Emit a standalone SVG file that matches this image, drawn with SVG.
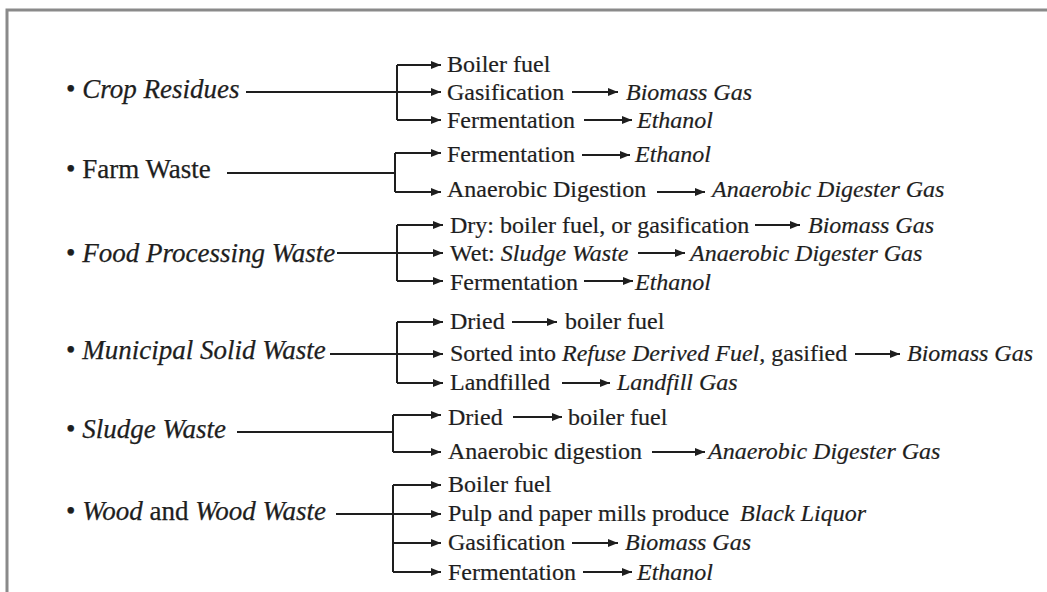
<svg xmlns="http://www.w3.org/2000/svg" width="1047" height="592" viewBox="0 0 1047 592">
<defs>
<marker id="ah" markerUnits="userSpaceOnUse" markerWidth="10" markerHeight="8" refX="10" refY="4" orient="auto">
<path d="M0,0 L10,4 L0,8 z" fill="#1e1e1e"/>
</marker>
<style>
.src{font-family:"Liberation Serif","Times New Roman",serif;font-size:27px;fill:#1e1e1e;stroke:#1e1e1e;stroke-width:0.25px}
.t{font-family:"Liberation Serif","Times New Roman",serif;font-size:24px;fill:#1e1e1e;stroke:#1e1e1e;stroke-width:0.2px}
.i{font-style:italic}
.ln{stroke:#1e1e1e;stroke-width:2;fill:none}
.ar{stroke:#1e1e1e;stroke-width:2;fill:none;marker-end:url(#ah)}
.frame{stroke:#8a8a8a;stroke-width:3;fill:none}
</style>
</defs>
<rect width="1047" height="592" fill="#ffffff"/>
<path class="frame" d="M7,592 L7,10 L1047,10"/>

<g id="connectors">
<!-- Crop Residues -->
<path class="ln" d="M246,92 H397 M397,65 V120"/>
<path class="ar" d="M397,65 H441"/>
<path class="ar" d="M397,92 H441"/>
<path class="ar" d="M397,120 H441"/>
<path class="ar" d="M572,92 H618"/>
<path class="ar" d="M584,120 H632"/>
<!-- Farm Waste -->
<path class="ln" d="M227,173 H395 M395,153 V192"/>
<path class="ar" d="M395,153 H441"/>
<path class="ar" d="M395,192 H441"/>
<path class="ar" d="M582,155 H630"/>
<path class="ar" d="M657,192 H705"/>
<!-- Food Processing Waste -->
<path class="ln" d="M337,253 H397 M397,225 V281"/>
<path class="ar" d="M397,225 H443"/>
<path class="ar" d="M397,253 H443"/>
<path class="ar" d="M397,281 H443"/>
<path class="ar" d="M755,225 H800"/>
<path class="ar" d="M638,253 H685"/>
<path class="ar" d="M584,281 H633"/>
<!-- Municipal Solid Waste -->
<path class="ln" d="M330,354 H397 M397,322 V383"/>
<path class="ar" d="M397,322 H443"/>
<path class="ar" d="M397,354 H443"/>
<path class="ar" d="M397,383 H443"/>
<path class="ar" d="M512,322 H557"/>
<path class="ar" d="M855,354 H900"/>
<path class="ar" d="M562,383 H610"/>
<!-- Sludge Waste -->
<path class="ln" d="M237,432 H393 M393,415 V452"/>
<path class="ar" d="M393,415 H441"/>
<path class="ar" d="M393,452 H441"/>
<path class="ar" d="M513,417 H562"/>
<path class="ar" d="M652,452 H705"/>
<!-- Wood and Wood Waste -->
<path class="ln" d="M336,514 H393 M393,485 V572"/>
<path class="ar" d="M393,485 H441"/>
<path class="ar" d="M393,514 H441"/>
<path class="ar" d="M393,543 H441"/>
<path class="ar" d="M393,572 H441"/>
<path class="ar" d="M572,543 H618"/>
<path class="ar" d="M583,572 H632"/>
</g>

<g id="crop-residues"><text class="src" x="66" y="98">• <tspan class="i">Crop Residues</tspan></text></g>
<g id="crop-boiler-fuel"><text class="t" x="447" y="72">Boiler fuel</text></g>
<g id="crop-gasification"><text class="t" x="447" y="100">Gasification</text></g>
<g id="crop-biomass-gas"><text class="t i" x="626" y="100">Biomass Gas</text></g>
<g id="crop-fermentation"><text class="t" x="447" y="128">Fermentation</text></g>
<g id="crop-ethanol"><text class="t i" x="637" y="128">Ethanol</text></g>

<g id="farm-waste"><text class="src" x="66" y="178">• Farm Waste</text></g>
<g id="farm-fermentation"><text class="t" x="447" y="162">Fermentation</text></g>
<g id="farm-ethanol"><text class="t i" x="635" y="162">Ethanol</text></g>
<g id="farm-anaerobic-digestion"><text class="t" x="447" y="197">Anaerobic Digestion</text></g>
<g id="farm-adg"><text class="t i" x="712" y="197">Anaerobic Digester Gas</text></g>

<g id="food-processing-waste"><text class="src" x="66" y="262">• <tspan class="i">Food Processing Waste</tspan></text></g>
<g id="food-dry"><text class="t" x="450" y="233">Dry: boiler fuel, or gasification</text></g>
<g id="food-biomass-gas"><text class="t i" x="808" y="233">Biomass Gas</text></g>
<g id="food-wet"><text class="t" x="450" y="261">Wet: <tspan class="i">Sludge Waste</tspan></text></g>
<g id="food-adg"><text class="t i" x="690" y="261">Anaerobic Digester Gas</text></g>
<g id="food-fermentation"><text class="t" x="450" y="290">Fermentation</text></g>
<g id="food-ethanol"><text class="t i" x="635" y="290">Ethanol</text></g>

<g id="municipal-solid-waste"><text class="src" x="66" y="359">• <tspan class="i">Municipal Solid Waste</tspan></text></g>
<g id="msw-dried"><text class="t" x="450" y="329">Dried</text></g>
<g id="msw-boiler-fuel"><text class="t" x="565" y="329">boiler fuel</text></g>
<g id="msw-sorted"><text class="t" x="450" y="361">Sorted into <tspan class="i">Refuse Derived Fuel,</tspan> gasified</text></g>
<g id="msw-biomass-gas"><text class="t i" x="907" y="361">Biomass Gas</text></g>
<g id="msw-landfilled"><text class="t" x="450" y="390">Landfilled</text></g>
<g id="msw-landfill-gas"><text class="t i" x="617" y="390">Landfill Gas</text></g>

<g id="sludge-waste"><text class="src" x="66" y="438">• <tspan class="i">Sludge Waste</tspan></text></g>
<g id="sludge-dried"><text class="t" x="448" y="425">Dried</text></g>
<g id="sludge-boiler-fuel"><text class="t" x="568" y="425">boiler fuel</text></g>
<g id="sludge-anaerobic-digestion"><text class="t" x="448" y="459">Anaerobic digestion</text></g>
<g id="sludge-adg"><text class="t i" x="708" y="459">Anaerobic Digester Gas</text></g>

<g id="wood-waste"><text class="src" x="66" y="520">• <tspan class="i">Wood</tspan> and <tspan class="i">Wood Waste</tspan></text></g>
<g id="wood-boiler-fuel"><text class="t" x="448" y="492">Boiler fuel</text></g>
<g id="wood-pulp"><text class="t" x="448" y="521">Pulp and paper mills produce</text></g>
<g id="wood-black-liquor"><text class="t i" x="740" y="521">Black Liquor</text></g>
<g id="wood-gasification"><text class="t" x="448" y="550">Gasification</text></g>
<g id="wood-biomass-gas"><text class="t i" x="625" y="550">Biomass Gas</text></g>
<g id="wood-fermentation"><text class="t" x="448" y="580">Fermentation</text></g>
<g id="wood-ethanol"><text class="t i" x="637" y="580">Ethanol</text></g>
</svg>
